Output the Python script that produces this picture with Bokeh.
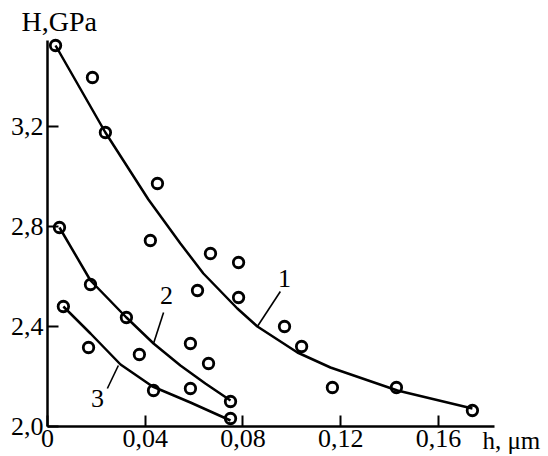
from bokeh.plotting import figure
from bokeh.models import FixedTicker, Range1d, Label, Title
from bokeh.core.properties import value
from bokeh.embed import file_html
from bokeh.resources import INLINE

# --- data ---
# measured points (open circles)
s1_h = [0.0033, 0.0184, 0.0237, 0.0450, 0.0421, 0.0667, 0.0782, 0.0614, 0.0782, 0.0970, 0.1040, 0.1166, 0.1428, 0.1739]
s1_H = [3.524, 3.396, 3.176, 2.972, 2.744, 2.692, 2.656, 2.544, 2.516, 2.400, 2.320, 2.156, 2.156, 2.064]
s2_h = [0.0049, 0.0176, 0.0323, 0.0585, 0.0659, 0.0749]
s2_H = [2.796, 2.568, 2.436, 2.332, 2.252, 2.100]
s3_h = [0.0065, 0.0168, 0.0376, 0.0434, 0.0585, 0.0749]
s3_H = [2.480, 2.316, 2.288, 2.144, 2.152, 2.032]

# fitted curves
c1_h = [0.0033, 0.0237, 0.0413, 0.0544, 0.0638, 0.0777, 0.0859, 0.1023, 0.1158, 0.1432, 0.1739]
c1_H = [3.524, 3.176, 2.908, 2.732, 2.612, 2.472, 2.400, 2.296, 2.236, 2.144, 2.072]
c2_h = [0.0049, 0.0176, 0.0323, 0.0434, 0.0544, 0.0646, 0.0749]
c2_H = [2.796, 2.584, 2.436, 2.332, 2.244, 2.172, 2.104]
c3_h = [0.0065, 0.0176, 0.0299, 0.0430, 0.0585, 0.0749]
c3_H = [2.480, 2.372, 2.248, 2.160, 2.096, 2.024]

# curve labels and their leader lines
curve_names = ["1", "2", "3"]
name_h = [0.0970, 0.0487, 0.0205]
name_H = [2.592, 2.524, 2.112]
leader_h = [[0.0953, 0.0859], [0.0475, 0.0434], [0.0245, 0.0290]]
leader_H = [[2.540, 2.400], [2.456, 2.332], [2.152, 2.244]]

x_ticks = [0, 0.04, 0.08, 0.12, 0.16]
x_tick_labels = ["0", "0,04", "0,08", "0,12", "0,16"]
y_ticks = [2.0, 2.4, 2.8, 3.2]
y_tick_labels = ["2,0", "2,4", "2,8", "3,2"]
x_axis_end = 0.1829
y_axis_top = 3.544

FONT = "Liberation Serif"

p = figure(width=548, height=456, output_backend="svg", toolbar_location=None,
           x_range=Range1d(-0.01923, 0.2034), y_range=Range1d(1.88, 3.56),
           min_border_left=0, min_border_right=4, min_border_top=36, min_border_bottom=0)
p.outline_line_color = None
p.grid.visible = False
p.background_fill_color = "white"
p.border_fill_color = "white"

for ax, ticks, labels, so in ((p.xaxis[0], x_ticks, x_tick_labels, 3), (p.yaxis[0], y_ticks, y_tick_labels, 4)):
    ax.ticker = FixedTicker(ticks=ticks)
    ax.major_label_overrides = {t: l for t, l in zip(ticks, labels)}
    ax.axis_line_width = 2.5
    ax.axis_line_color = "black"
    ax.major_tick_line_width = 2
    ax.major_tick_line_color = "black"
    ax.major_tick_in = 11
    ax.major_tick_out = 0
    ax.minor_tick_line_color = None
    ax.major_label_text_font = FONT
    ax.major_label_text_font_size = "26px"
    ax.major_label_text_color = "black"
    ax.major_label_standoff = so

p.xaxis[0].fixed_location = 2.0
p.xaxis[0].bounds = (0, x_axis_end)
p.yaxis[0].fixed_location = 0
p.yaxis[0].bounds = (2.0, y_axis_top)

# curves
for hx, hy in ((c1_h, c1_H), (c2_h, c2_H), (c3_h, c3_H)):
    p.line(hx, hy, line_color="black", line_width=2.5)

# leader lines
p.multi_line(leader_h, leader_H, line_color="black", line_width=1.6)

# points
for hx, hy in ((s1_h, s1_H), (s2_h, s2_H), (s3_h, s3_H)):
    p.scatter(hx, hy, marker="circle", size=10.5, fill_color=None, line_color="black", line_width=2.8)

p.text(name_h, name_H, text=curve_names, text_font=value(FONT), text_font_size="26px",
       text_align="center", text_baseline="middle", text_color="black")

p.add_layout(Title(text="H,GPa", align="left", offset=21, standoff=0, text_font=FONT,
                   text_font_size="28px", text_font_style="normal", text_color="black"), "above")
p.add_layout(Label(x=0.1780, y=2.0, text="h, μm",
                   text_font=FONT, text_font_size="25px",
                   text_baseline="top", text_align="left", text_color="black"))

open("out.html", "w").write(file_html(p, INLINE))
